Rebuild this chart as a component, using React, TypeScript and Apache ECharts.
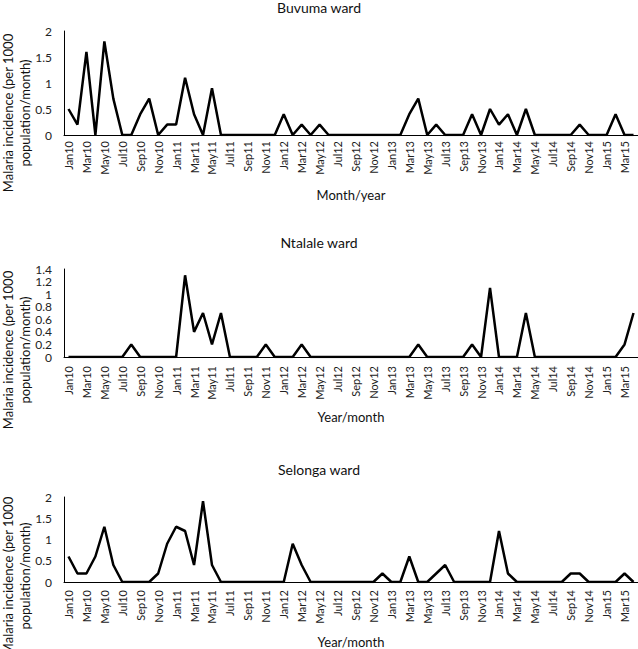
import React, { useEffect, useRef } from "react";
import * as echarts from "echarts";

const months = [
  "Jan10","Feb10","Mar10","Apr10","May10","Jun10","Jul10","Aug10","Sep10","Oct10","Nov10","Dec10",
  "Jan11","Feb11","Mar11","Apr11","May11","Jun11","Jul11","Aug11","Sep11","Oct11","Nov11","Dec11",
  "Jan12","Feb12","Mar12","Apr12","May12","Jun12","Jul12","Aug12","Sep12","Oct12","Nov12","Dec12",
  "Jan13","Feb13","Mar13","Apr13","May13","Jun13","Jul13","Aug13","Sep13","Oct13","Nov13","Dec13",
  "Jan14","Feb14","Mar14","Apr14","May14","Jun14","Jul14","Aug14","Sep14","Oct14","Nov14","Dec14",
  "Jan15","Feb15","Mar15","Apr15",
];

const buvuma = [
  0.5, 0.2, 1.6, 0, 1.8, 0.7, 0, 0, 0.4, 0.7,
  0, 0.2, 0.2, 1.1, 0.4, 0, 0.9, 0, 0, 0,
  0, 0, 0, 0, 0.4, 0, 0.2, 0, 0.2, 0,
  0, 0, 0, 0, 0, 0, 0, 0, 0.4, 0.7,
  0, 0.2, 0, 0, 0, 0.4, 0, 0.5, 0.2, 0.4,
  0, 0.5, 0, 0, 0, 0, 0, 0.2, 0, 0,
  0, 0.4, 0, 0,
];

const ntalale = [
  0, 0, 0, 0, 0, 0, 0, 0.2, 0, 0,
  0, 0, 0, 1.3, 0.4, 0.7, 0.2, 0.7, 0, 0,
  0, 0, 0.2, 0, 0, 0, 0.2, 0, 0, 0,
  0, 0, 0, 0, 0, 0, 0, 0, 0, 0.2,
  0, 0, 0, 0, 0, 0.2, 0, 1.1, 0, 0,
  0, 0.7, 0, 0, 0, 0, 0, 0, 0, 0,
  0, 0, 0.2, 0.7,
];

const selonga = [
  0.6, 0.2, 0.2, 0.6, 1.3, 0.4, 0, 0, 0, 0,
  0.2, 0.9, 1.3, 1.2, 0.4, 1.9, 0.4, 0, 0, 0,
  0, 0, 0, 0, 0, 0.9, 0.4, 0, 0, 0,
  0, 0, 0, 0, 0, 0.2, 0, 0, 0.6, 0,
  0, 0.2, 0.4, 0, 0, 0, 0, 0, 1.2, 0.2,
  0, 0, 0, 0, 0, 0, 0.2, 0.2, 0, 0,
  0, 0, 0.2, 0,
];

const titles = ["Buvuma ward", "Ntalale ward", "Selonga ward"];
const xNames = ["Month/year", "Year/month", "Year/month"];
const yNameLine1 = "Malaria incidence (per 1000";
const yNameLine2 = "population/month)";
const yMax = [2, 1.4, 2];
const yStep = [0.5, 0.2, 0.5];

const FONT = "Lato";

export default function App() {
  const ref = useRef<HTMLDivElement>(null);
  useEffect(() => {
    if (!ref.current) return;
    const chart = echarts.init(ref.current, null, { renderer: "svg" });
    const grids = [
      { left: 64, top: 31, width: 574, height: 104 },
      { left: 64, top: 269, width: 574, height: 88 },
      { left: 64, top: 497, width: 574, height: 91 },
    ];
    const titleTop = [0, 235, 462];
    const labelMargin = [6, 9, 8];
    const nameCenters = [113, 350, 576];
    const seriesData = [buvuma, ntalale, selonga];

    const graphics: any[] = [];
    nameCenters.forEach((cy) => {
      graphics.push({
        type: "text",
        x: 8,
        y: cy,
        rotation: Math.PI / 2,
        style: {
          text: yNameLine1,
          fontFamily: FONT,
          fontSize: 13,
          fill: "#111",
          align: "center",
          verticalAlign: "middle",
        },
      });
      graphics.push({
        type: "text",
        x: 25,
        y: cy,
        rotation: Math.PI / 2,
        style: {
          text: yNameLine2,
          fontFamily: FONT,
          fontSize: 13,
          fill: "#111",
          align: "center",
          verticalAlign: "middle",
        },
      });
    });

    chart.setOption({
      animation: false,
      backgroundColor: "#ffffff",
      title: titles.map((t, i) => ({
        text: t,
        left: "center",
        top: titleTop[i],
        padding: 0,
        textStyle: { fontFamily: FONT, fontSize: 14, fontWeight: "normal", color: "#111" },
      })),
      grid: grids.map((g) => ({ ...g, containLabel: false })),
      xAxis: grids.map((_, i) => ({
        type: "category",
        gridIndex: i,
        data: months,
        boundaryGap: true,
        name: xNames[i],
        nameLocation: "middle",
        nameGap: 53,
        nameTextStyle: { fontFamily: FONT, fontSize: 13, color: "#111" },
        axisLine: { show: true, lineStyle: { color: "#000", width: 1 } },
        axisTick: { show: false },
        splitLine: { show: false },
        axisLabel: {
          interval: 1,
          rotate: 90,
          margin: labelMargin[i],
          fontFamily: FONT,
          fontSize: 11,
          color: "#222",
        },
      })),
      yAxis: grids.map((_, i) => ({
        type: "value",
        gridIndex: i,
        min: 0,
        max: yMax[i],
        interval: yStep[i],
        axisLine: { show: true, lineStyle: { color: "#000", width: 1 } },
        axisTick: { show: false },
        splitLine: { show: false },
        axisLabel: {
          margin: 12,
          fontFamily: FONT,
          fontSize: 12,
          lineHeight: 11,
          color: "#222",
        },
      })),
      series: seriesData.map((d, i) => ({
        type: "line",
        xAxisIndex: i,
        yAxisIndex: i,
        data: d,
        symbol: "none",
        smooth: false,
        lineStyle: { color: "#000", width: 2.5 },
        z: 5,
      })),
      graphic: graphics,
    });
    return () => chart.dispose();
  }, []);
  return (
    <div
      ref={ref}
      style={{ position: "absolute", left: 0, top: 0, width: 638, height: 649 }}
    />
  );
}
